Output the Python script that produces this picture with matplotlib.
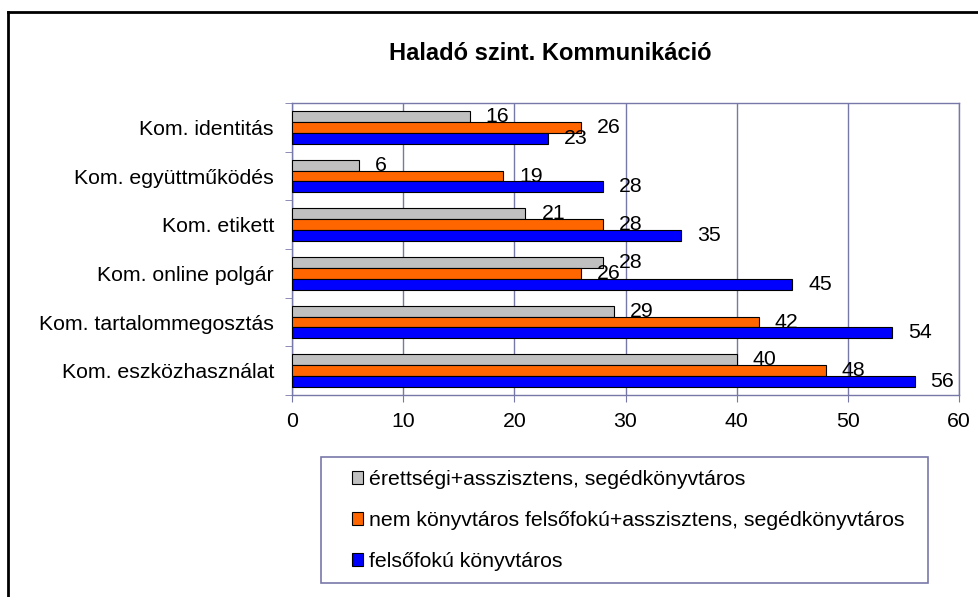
import matplotlib.pyplot as plt
from matplotlib.lines import Line2D
from matplotlib.patches import Rectangle
import numpy as np

plt.rcParams['font.family'] = ['Liberation Sans', 'DejaVu Sans']

# adatok
categories = ['Kom. identitás', 'Kom. együttműködés', 'Kom. etikett',
              'Kom. online polgár', 'Kom. tartalommegosztás', 'Kom. eszközhasználat']
series_names = ['érettségi+asszisztens, segédkönyvtáros',
                'nem könyvtáros felsőfokú+asszisztens, segédkönyvtáros',
                'felsőfokú könyvtáros']
erettsegi = [16, 6, 21, 28, 29, 40]
nem_konyvtaros = [26, 19, 28, 26, 42, 48]
felsofoku = [23, 28, 35, 45, 54, 56]
colors = ['#C0C0C0', '#FF6600', '#0000FF']
axis_col = '#7878a8'
fs = 15.3

W, H = 979, 597
fig = plt.figure(figsize=(W / 100, H / 100), dpi=100)
ax = fig.add_axes([292 / W, 1 - 395 / H, (959 - 292) / W, (395 - 103) / H])

y = np.arange(len(categories))
h = 0.226
for k, (vals, c) in enumerate(zip([erettsegi, nem_konyvtaros, felsofoku], colors)):
    pos = y + (k - 1) * h
    ax.barh(pos, vals, height=h, color=c, edgecolor='black', linewidth=0.8,
            label=series_names[k], zorder=3)
    for p, v in zip(pos, vals):
        ax.annotate(str(v), xy=(v, p), xytext=(11.5, 0), textcoords='offset points',
                    va='center', ha='left', fontsize=fs, zorder=4)

ax.set_xlim(0, 60)
ax.set_ylim(len(categories) - 0.5, -0.5)
ax.set_xticks(range(0, 61, 10))
ax.tick_params(axis='x', length=5, color=axis_col, labelsize=fs, pad=7)
ax.set_yticks(y)
ax.set_yticklabels(categories)
ax.tick_params(axis='y', length=0, labelsize=fs, pad=13)
ax.set_yticks(np.arange(-0.5, len(categories)), minor=True)
ax.tick_params(axis='y', which='minor', length=5, color=axis_col)
ax.grid(axis='x', color=axis_col, linewidth=1, zorder=0)
for s in ax.spines.values():
    s.set_color(axis_col)
    s.set_linewidth(1)

fig.text(550 / W, 1 - 53 / H, 'Haladó szint. Kommunikáció', ha='center', va='center',
         fontsize=17, fontweight='bold')

# jelmagyarázat külön kerettel
handles = [Rectangle((0, 0), 1, 1, facecolor=c, edgecolor='black', linewidth=0.8) for c in colors]
fig.legend(handles, series_names, loc='upper left', bbox_to_anchor=(341 / W, 1 - 459 / H),
           frameon=False, fontsize=fs, handlelength=0.55, handleheight=0.55,
           handletextpad=0.25, labelspacing=1.05, borderpad=0)
fig.patches.append(Rectangle((321 / W, 1 - 583 / H), (928 - 321) / W, (583 - 457) / H,
                             transform=fig.transFigure, fill=False, edgecolor=axis_col,
                             linewidth=1.2))

# külső keret
fig.lines.append(Line2D([8 / W, 8 / W], [0, 1 - 12 / H], transform=fig.transFigure,
                        color='black', linewidth=2))
fig.lines.append(Line2D([8 / W, 1], [1 - 12 / H, 1 - 12 / H], transform=fig.transFigure,
                        color='black', linewidth=2))

fig.savefig('out.png', dpi=100)
